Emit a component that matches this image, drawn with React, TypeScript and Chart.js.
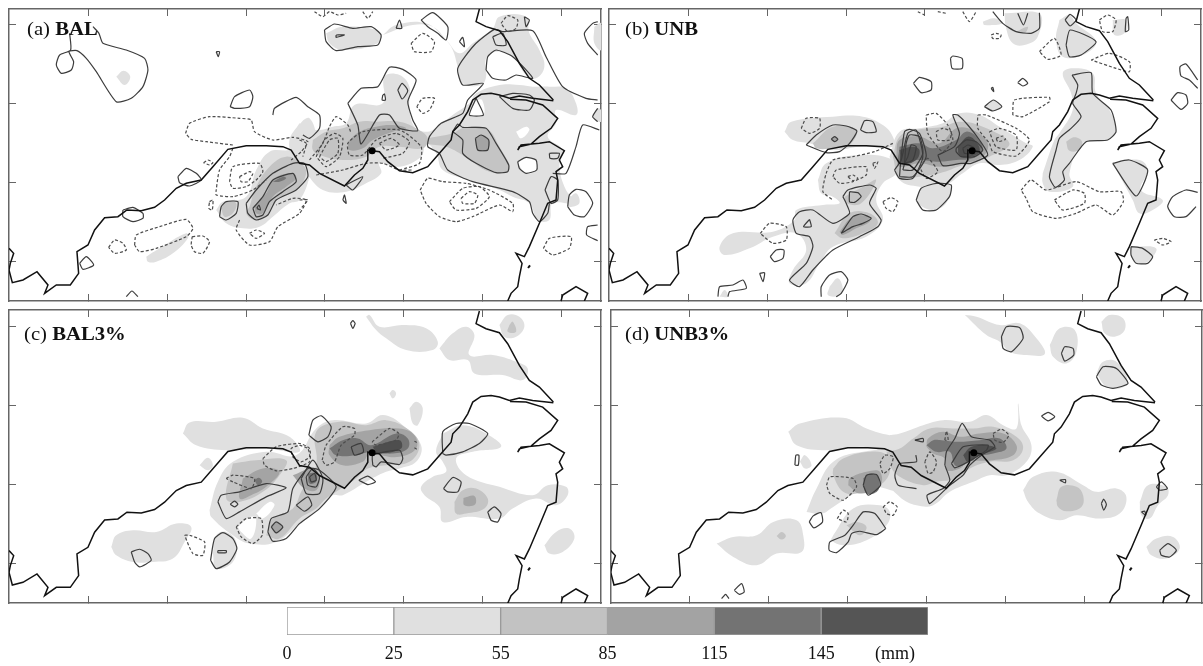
import React, { useEffect, useRef } from "react";
import { Chart, registerables } from "chart.js";

Chart.register(...registerables);

// Map units: left half of each panel uses u, right half uses u + 900.
const S = 0, D = 1, SO = 2, DO = 3;
const SHIFT = 900;

const coastWestLeft = [28,745,42,760,32,790,28,810,38,848,70,840,112,815,145,855,135,880,170,855,212,855,237,820,232,755,265,735,285,690,315,653,355,650,382,630,425,632,465,622,495,600,530,565,560,550,605,540,640,500,685,448,740,437,800,437,850,440,875,450,895,482];
const coastWestRight = [0,490,30,495,60,520,135,558,165,525,190,505,205,480,205,450,218,452,240,455,265,485,300,512,340,518,385,500,420,460,455,420,460,395,480,375,505,335,520,300,545,283,575,280,600,285,630,295,660,288,700,295,762,302];
const coastNorth = [540,27,530,65,560,80,600,92,625,125,660,190,690,235,720,255,762,300];
const coastSouth = [632,298,680,300,730,315,775,355,755,385,720,410,695,432,660,440,655,450,665,435,720,430,750,425,795,452,780,480,790,500,770,515,775,540,770,600,745,610,720,670,690,740,675,770,650,760,668,790,660,830,655,860,635,880,625,903];
const coastCorner = [785,903,790,885,830,860,865,880,855,903];
const coastIsle = [686,804,692,796];
const stationDot = [218, 452];

const aShadeLeft = [
  [1,[350,230,372,212,392,230,375,255]],
  [1,[440,770,480,745,560,700,565,715,520,760,470,785,445,785]],
  [1,[650,630,670,605,740,590,770,510,810,455,880,445,900,375,930,355,950,420,930,530,900,600,870,610,820,650,780,680,730,685,680,670]],
  [2,[750,620,770,560,810,500,860,470,905,490,920,520,890,570,825,605,800,650,765,660,740,640]],
  [2,[665,625,680,605,710,610,700,640,675,650]],
  [3,[765,620,800,580,825,535,880,520,890,535,860,560,820,590,790,640,770,640]],
  [4,[820,545,850,530,860,535,840,545]],
];
const aShadeRight = [
  [1,[0,370,50,390,100,380,140,370,165,315,250,310,255,230,300,225,330,260,330,320,345,380,385,395,420,375,460,345,510,310,530,280,600,255,660,255,700,260,750,260,800,265,830,310,830,345,770,330,770,370,745,410,790,450,780,500,800,570,830,610,760,610,750,660,715,660,690,610,640,590,600,570,510,540,430,510,410,460,380,430,365,470,300,500,240,490,245,520,200,550,140,575,70,570,20,520,-20,470,-30,420]],
  [1,[250,105,340,75,400,80,440,120,460,150,475,200,490,250,545,255,560,230,560,175,590,155,640,170,680,225,710,235,735,200,720,150,690,100,680,50,600,50,580,85,520,130,480,160,440,120,380,70,290,75]],
  [1,[80,100,130,80,240,95,235,130,130,150,90,130]],
  [1,[805,600,830,580,840,610,810,620]],
  [1,[885,80,905,70,905,150,885,130]],
  [1,[880,345,895,325,905,330,905,365,890,360]],
  [1.5,[655,490,680,472,710,480,710,510,680,520]],
  [1.5,[650,395,680,380,690,390,665,415]],
  [1.5,[530,300,548,300,552,345,510,345]],
  [2,[40,420,80,395,130,385,180,365,230,365,300,365,350,385,385,415,370,445,300,440,240,440,200,470,130,480,60,465,40,450]],
  [2,[385,415,460,400,490,385,560,385,600,440,630,510,570,515,490,465,440,440,380,430]],
  [3,[145,425,180,395,230,380,280,375,320,385,280,395,220,420,190,445,150,450]],
  [3,[530,415,550,405,568,420,565,450,535,450]],
];
const aLinesLeft = [
  [SO,[210,100,213,150,180,165,170,195,185,220,215,210,222,185,208,155,232,152,260,175,290,215,350,305,395,295,430,260,445,210,435,175,380,150,310,130,298,100,280,80]],
  [S,[692,320,705,290,750,270,760,290,750,320,705,325]],
  [S,[535,530,560,505,590,520,605,540,570,558,540,548]],
  [S,[370,630,400,622,430,640,430,655,400,665,370,650]],
  [S,[240,790,260,770,282,795,250,808]],
  [SO,[380,890,397,873,415,890]],
  [S,[660,650,665,620,680,605,715,605,710,640,680,660]],
  [S,[740,610,770,570,820,520,880,490,915,490,925,530,890,570,830,600,805,645,770,660,745,640]],
  [S,[760,625,790,590,820,540,880,520,890,545,850,575,810,605,790,645,770,650]],
  [S,[772,625,778,615,783,630]],
  [S,[650,155,660,155,656,170]],
  [SO,[820,345,825,325,890,292,925,320,960,345,960,385,930,415,910,405]],
  [DO,[558,400,570,370,630,350,720,355,755,360,765,395,820,420,880,412,925,425,905,455,875,480]],
  [DO,[700,435,620,425,575,418,558,400]],
  [DO,[700,445,690,470,660,510,650,570,650,585,700,590,760,570,800,540]],
  [D,[690,545,700,500,780,490,790,515,770,540,740,560,700,565]],
  [D,[720,530,750,515,760,520,745,545,725,545]],
  [D,[612,488,625,480,640,488,630,495]],
  [D,[630,605,640,600,638,630,628,625]],
  [DO,[720,660,710,690,750,735,810,725,835,680,900,640,920,600,880,595,830,615]],
  [D,[750,700,770,690,795,700,770,715]],
  [D,[405,735,410,705,480,680,560,658,580,685,560,710,470,745,420,755]],
  [D,[578,710,610,708,630,725,610,760,585,755,575,735]],
  [D,[327,742,345,720,370,730,380,750,345,760]],
];
const aLinesRight = [
  [S,[145,310,185,265,235,260,270,202,310,208,350,240,325,305,340,360,355,392,300,385,270,345,240,345,185,432,175,375]],
  [S,[75,90,105,72,160,85,215,80,245,105,235,135,175,140,110,152,80,125]],
  [S,[110,105,135,105,110,112]],
  [S,[290,85,300,60,307,85]],
  [SO,[365,60,400,38,445,80,440,120,415,100,385,80,365,60]],
  [S,[295,270,308,250,325,272,308,297]],
  [S,[250,285,255,282,258,300,248,300]],
  [SO,[895,300,860,295,790,260,740,170,700,92,610,95,585,88,525,135,475,205,490,255,552,250,505,300,490,340,425,370,390,410,385,440,420,460,445,510,520,545,640,575,690,605,700,640,720,665,745,640,750,610]],
  [S,[560,210,565,170,590,150,640,170,700,235,650,225,620,240,580,235]],
  [S,[530,295,552,345,510,345]],
  [SO,[760,520,800,520,830,440,850,375,900,390]],
  [S,[460,395,475,372,490,382,560,385,590,430,628,495,625,515,590,518,530,490,490,460,490,420]],
  [S,[528,415,545,405,568,420,565,450,535,450]],
  [S,[480,125,490,112,495,140]],
  [S,[580,110,610,100,620,135,590,135]],
  [S,[675,50,690,60,680,80]],
  [SO,[895,65,880,70,855,100,865,130,895,165]],
  [S,[805,620,810,585,830,568,860,575,880,610,855,650,825,645]],
  [SO,[895,675,865,680,862,705,895,722]],
  [SO,[895,325,880,350,895,365]],
  [S,[140,555,190,530,160,570]],
  [S,[130,600,135,585,140,610]],
  [S,[655,485,680,472,710,480,712,510,680,520,660,505]],
  [S,[737,570,755,530,775,540,775,600,755,610]],
  [S,[600,290,640,280,690,285,705,300,690,330,640,325]],
  [S,[750,460,780,460,775,475,752,475]],
  [DO,[0,420,20,430,10,470]],
  [DO,[0,600,25,600,0,630]],
  [DO,[30,480,70,430,90,380,110,350,145,375,155,400]],
  [D,[50,470,75,420,105,400,130,415,120,470,80,500]],
  [D,[60,470,90,420,115,415,115,460,80,485]],
  [DO,[300,510,360,490,365,440,300,390,190,395,145,430,150,465,190,465,230,420,290,400,330,425,310,460,250,475]],
  [D,[240,430,275,415,300,435,260,450]],
  [DO,[50,525,130,510,200,490,250,490,300,510,340,510]],
  [D,[362,570,385,535,430,545,500,550,570,570,640,610,640,635,600,615,520,650,470,665,420,650,380,610]],
  [D,[450,605,490,565,540,560,570,590,530,625,470,630]],
  [D,[485,595,510,575,535,585,525,610,490,610]],
  [D,[335,130,370,100,405,125,395,155,345,155]],
  [D,[352,320,370,295,405,295,390,330,370,340]],
  [D,[605,70,625,47,655,60,650,85,625,95]],
  [D,[732,745,750,715,815,710,810,745,760,765]],
  [DO,[45,35,70,50,90,35,115,45,140,40]],
  [DO,[190,35,205,55,220,35]],
];

const bShadeLeft = [
  [1,[555,395,575,365,700,350,790,350,850,375,880,410,880,440,780,440,700,450,630,430,580,420]],
  [1,[655,540,680,490,780,465,880,480,890,520,850,550,830,600,850,660,800,710,700,740,660,790,620,850,570,850,580,810,620,750,590,700,520,710,450,745,375,765,360,740,400,700,520,695,585,660,590,630,670,615,720,610,700,590,665,580]],
  [1,[690,860,715,835,730,870,715,888,685,885]],
  [1,[360,890,375,870,385,890]],
  [2,[640,430,700,380,770,390,750,435,700,445,650,445]],
  [2,[735,590,790,560,830,540,785,610,740,610]],
  [2,[705,700,750,640,810,640,835,670,790,700,730,715]],
  [3,[720,695,760,650,810,650,810,665,770,685,730,705]],
  [3,[695,415,705,410,715,418,705,425]],
];
const bShadeRight = [
  [1,[-30,470,0,395,60,385,130,370,180,340,240,345,300,380,380,430,400,440,360,480,300,495,240,490,190,520,150,550,130,560,60,560,0,540]],
  [1,[50,600,70,560,150,555,140,610,100,630,60,615]],
  [1,[430,520,465,420,480,400,520,330,515,280,490,220,520,205,580,220,590,280,630,330,650,390,625,420,550,430,510,520,520,560,450,575,430,550]],
  [1,[640,490,720,480,745,510,725,570,790,600,760,630,720,640,700,600]],
  [1,[480,60,510,45,530,70,590,125,550,165,490,170,470,120]],
  [1,[315,40,420,40,415,110,375,135,340,130,320,85]],
  [1,[250,65,285,55,310,70,255,75]],
  [1,[640,60,680,60,680,95,645,105]],
  [1,[695,740,770,745,745,785,710,790,695,765]],
  [1,[255,320,280,300,305,320,280,333]],
  [2,[-20,470,0,410,50,390,130,380,180,365,250,380,330,430,270,470,190,495,120,520,60,530,0,530]],
  [2,[350,95,385,80,375,100]],
  [2,[500,425,525,412,548,425,540,450,510,452]],
  [3,[-10,470,0,420,60,410,120,430,170,385,220,390,265,430,250,470,190,490,120,500,60,490,0,500]],
  [4,[0,440,60,430,100,445,170,420,200,395,230,410,250,450,220,475,170,480,120,485,50,480,0,490]],
  [5,[0,450,40,440,60,450,50,480,10,490]],
  [5,[175,440,205,410,230,425,240,455,210,470,180,465]],
];
const bLinesLeft = [
  [S,[620,435,650,405,700,375,740,378,772,393,750,430,720,455,680,458]],
  [S,[695,417,705,410,715,418,705,425]],
  [S,[783,390,795,362,820,365,830,395,800,398]],
  [S,[885,510,905,480,925,400,950,390,970,470,940,535,900,535]],
  [S,[730,590,745,570,810,555,830,565,810,610,845,660,835,680,780,710,700,750,640,810,600,860,570,840,620,790,640,740,630,710,590,700,580,660,600,635,640,630,700,670,750,640,740,610]],
  [S,[750,575,775,578,785,590,765,607,750,605]],
  [S,[630,658,612,680,635,680]],
  [S,[725,700,760,650,785,642,815,655,790,670,760,680]],
  [S,[512,770,530,750,553,750,550,775,525,785]],
  [S,[480,820,495,818,490,845]],
  [SO,[355,890,360,860,400,855,430,840,440,865,390,875,385,890]],
  [SO,[665,890,665,860,690,825,725,815,745,840,725,880,710,890]],
  [D,[605,385,620,355,660,355,660,385,630,400]],
  [DO,[880,430,825,455,760,470,700,480,680,520,670,575,700,600]],
  [D,[700,530,710,510,800,500,800,525,760,545,720,550]],
  [D,[745,530,760,525,775,535,760,542]],
  [D,[482,700,510,670,560,680,560,720,520,730]],
  [D,[850,605,875,593,895,605,880,635,860,625]],
  [D,[820,490,835,485,825,505]],
];
const bLinesRight = [
  [S,[0,530,40,530,80,470,60,400,30,388,15,395,5,470]],
  [S,[10,510,40,510,70,460,60,410,30,405,20,430,15,490]],
  [S,[15,490,40,480,50,440,35,435,25,470]],
  [S,[115,465,165,440,180,400,160,345,175,345,205,375,240,420,265,465,215,490,185,490,130,497]],
  [S,[170,445,200,420,230,425,250,450,225,470,185,470,170,455]],
  [S,[190,445,205,435,225,445,215,460,195,460]],
  [S,[42,250,60,232,95,245,95,270,65,278]],
  [S,[153,175,160,168,188,175,188,205,158,205]],
  [S,[355,248,370,235,385,250,370,258]],
  [S,[255,320,282,300,307,320,280,333]],
  [SO,[280,35,310,70,350,95,395,100,420,85,420,38]],
  [SO,[355,40,372,75,385,40]],
  [S,[497,60,512,43,530,60,512,78]],
  [S,[500,135,512,90,590,125,545,165,510,170]],
  [S,[680,55,685,50,688,90,678,95]],
  [S,[518,225,575,218,580,280,635,330,650,395,625,420,560,425,510,490,490,515,495,540,468,562,450,530,470,450,480,415,515,385,545,350,520,310,530,280,535,255]],
  [S,[640,490,690,480,745,510,710,588]],
  [SO,[895,577,860,570,820,590,805,620,825,650,860,650,890,620]],
  [S,[815,300,835,278,860,285,865,310,845,328]],
  [SO,[895,265,870,240,845,228,842,200,860,192,895,240]],
  [S,[695,740,730,745,760,770,745,790,710,790,695,765]],
  [S,[50,600,65,565,110,550,155,555,150,590,110,630,70,630]],
  [S,[275,265,280,262,283,275]],
  [D,[80,345,110,340,145,375,160,420,130,455,85,400]],
  [D,[110,395,130,385,155,395,150,420,115,420]],
  [D,[60,500,85,475,115,515,80,535]],
  [D,[235,345,260,345,350,385,390,420,350,468,280,455,270,430,235,385]],
  [D,[270,395,300,385,350,405,350,450,290,440]],
  [D,[290,415,310,408,318,418,295,425]],
  [D,[340,345,345,300,450,292,450,305,370,350]],
  [D,[275,105,290,100,305,105,300,115,280,115]],
  [D,[365,570,395,540,440,570,530,545,600,575,665,575,672,605,640,645,590,615,530,640,470,655,400,635,380,595]],
  [D,[465,600,520,570,555,580,555,610,490,630]],
  [D,[420,155,465,115,485,165,445,178]],
  [D,[575,180,630,160,690,185,690,215,650,205]],
  [D,[600,60,625,45,650,60,640,95,610,95]],
  [D,[765,720,790,715,815,725,790,735]],
  [DO,[190,35,210,65,230,35]],
  [DO,[55,35,75,45]],
  [DO,[115,35,140,40]],
];

const cShadeLeft = [
  [1,[550,385,570,352,650,350,730,338,790,370,870,395,900,440,800,430,680,435,590,420]],
  [1,[630,615,655,530,700,470,800,440,890,450,950,370,1000,345,1100,355,1150,330,1210,360,1265,420,1250,470,1200,490,1160,500,1100,530,1030,570,1000,570,960,610,900,655,830,710,750,715,700,690,635,635]],
  [1,[600,480,625,458,640,480,625,495]],
  [1,[335,725,350,690,400,675,470,680,530,655,575,665,555,710,520,760,460,770,400,770,350,750]],
  [1,[640,745,650,690,680,680,710,710,700,770,650,790]],
  [1.5,[770,625,810,590,825,600,790,640]],
  [1.5,[715,665,750,635,770,640,755,700,725,680]],
  [2,[700,475,770,465,860,465,840,510,790,560,720,590,680,580]],
  [2,[800,690,820,640,880,610,905,560,950,480,950,380,1020,350,1100,360,1160,345,1230,375,1260,420,1230,470,1160,480,1105,490,1070,520,1010,560,980,580,950,610,900,640,840,700]],
  [3,[730,520,790,490,840,500,800,545,755,570,720,580]],
  [3,[815,660,830,650,850,665,830,685]],
  [3,[880,510,940,490,960,520,950,555,915,550]],
  [4,[765,525,778,518,788,530,775,540]],
  [4,[925,505,950,505,950,530,930,535]],
];
const cShadeRight = [
  [1,[430,385,490,360,560,385,605,425,520,440,470,460,500,510,600,545,700,570,745,540,800,545,805,570,770,600,710,580,640,610,600,640,500,635,430,650,420,605,375,570,365,545,400,515,440,500,430,470,410,440]],
  [1,[735,720,770,680,810,670,825,700,790,740,750,745]],
  [1,[420,130,460,85,500,65,525,90,510,150,580,150,650,170,685,190,670,225,610,210,525,205,505,165,450,165]],
  [1,[600,60,625,30,660,35,675,65,650,95,615,95]],
  [1,[200,35,210,30,240,65,310,60,380,70,415,110,400,135,320,135,260,100,230,75]],
  [1,[270,265,280,255,290,265,280,280]],
  [1,[330,310,350,290,370,310,355,360,340,355]],
  [2,[465,590,490,555,530,550,565,580,555,610,500,625,470,625]],
  [2,[630,60,640,50,650,80,625,80]],
  [3,[90,420,120,395,210,375,300,370,345,390,350,430,300,455,240,450,210,445,190,470,130,480,90,450]],
  [3,[492,578,525,572,527,598,495,600]],
  [4,[90,430,130,405,175,400,215,420,290,385,325,400,325,430,280,445,215,440,170,450,110,450]],
  [5,[220,425,300,405,305,430,235,445]],
];
const cLinesLeft = [
  [S,[655,590,665,570,720,560,800,535,860,548,800,575,720,620,680,640]],
  [S,[692,597,705,588,715,597,705,605]],
  [S,[805,680,815,640,865,620,880,550,925,490,960,495,1010,545,960,610,900,655,860,700,820,708]],
  [S,[815,665,830,650,850,665,830,683]],
  [S,[890,600,925,575,937,600,915,618]],
  [S,[905,520,940,465,970,520,960,565,920,565]],
  [S,[920,515,940,490,960,515,950,545,925,540]],
  [S,[930,515,945,505,950,525,935,530]],
  [S,[395,740,420,732,445,745,455,765,420,785,405,770]],
  [S,[633,765,645,700,670,682,700,700,712,730,690,770,650,790]],
  [S,[655,736,680,736,680,742,655,742]],
  [D,[680,520,700,510,765,520,755,550,700,530]],
  [D,[790,460,830,425,900,415,930,430,930,470,880,490,830,497,795,480]],
  [D,[710,665,740,640,785,640,788,690,760,715,725,695]],
  [D,[555,690,570,690,615,710,610,750,580,745]],
];
const cLinesRight = [
  [S,[28,390,40,345,65,332,95,365,85,395,55,410]],
  [S,[155,425,185,415,192,440,165,450]],
  [S,[178,525,205,513,228,530,205,538]],
  [S,[220,480,220,450,300,435,310,460,300,478,245,470,230,485]],
  [S,[430,445,430,380,470,355,510,355,565,385,540,415,490,440,440,450]],
  [S,[432,550,460,517,485,530,475,560,445,560]],
  [S,[565,620,585,605,605,625,595,650,575,645]],
  [S,[153,55,160,47,167,55,160,70]],
  [D,[0,420,25,430,30,455,5,470,-20,455,-25,430]],
  [D,[68,465,80,420,130,365,165,370,165,390,125,420,105,470,80,480]],
  [D,[218,410,270,370,298,385,290,405,230,420]],
  [DO,[345,408,352,412]],
  [DO,[345,428,352,432]],
];

const dShadeLeft = [
  [1,[565,380,600,355,730,338,800,370,870,390,930,390,900,445,790,425,680,435,590,420]],
  [1,[620,620,650,550,700,470,790,440,900,440,960,510,930,560,800,540,770,560,700,605,665,625]],
  [1,[700,690,760,610,840,600,870,620,860,660,800,705,730,720,695,705]],
  [1,[600,470,615,450,635,480,615,490]],
  [1,[350,715,400,695,470,690,520,650,590,645,610,690,605,740,530,745,470,780,400,755]],
  [2,[700,490,730,460,810,440,860,450,870,500,840,540,770,565,730,560,700,510]],
  [2,[740,660,770,650,800,665,780,690]],
  [2,[530,692,545,680,558,692,545,703]],
  [3,[745,540,750,520,800,500,840,500,840,545,780,565]],
  [4,[790,520,810,505,835,515,835,555,800,565]],
];
const dShadeRight = [
  [1,[-30,390,0,385,70,360,130,345,210,350,260,330,310,360,350,370,355,295,365,360,395,420,380,470,320,510,270,510,220,530,150,560,100,600,50,600,0,575,-40,520]],
  [1,[370,555,400,515,470,500,550,540,590,560,650,550,680,575,660,625,600,640,530,630,480,645,420,625,385,590]],
  [1,[720,590,745,540,800,545,805,570,775,600,750,640,725,630]],
  [1,[740,725,770,700,820,695,840,730,800,760,755,750]],
  [1,[450,120,480,70,525,75,530,140,500,175,460,155]],
  [1,[590,205,610,170,650,170,685,230,660,250,620,245]],
  [1,[605,50,630,30,670,40,675,75,645,95,615,85]],
  [1,[195,30,230,35,300,60,360,55,410,100,435,147,380,150,330,140,300,110,260,90]],
  [2,[-40,440,0,430,40,400,90,370,160,370,220,370,280,365,350,395,370,430,340,465,270,470,210,490,170,520,110,530,70,540,0,515,-30,480]],
  [2,[470,585,485,545,530,545,550,570,545,605,500,618,475,605]],
  [3,[80,425,85,400,130,380,180,395,240,385,310,385,350,420,340,450,280,465,205,470,180,490,140,495,135,460,100,445]],
  [4,[80,420,100,405,125,405,175,410,240,405,300,400,320,430,280,445,230,455,190,480,165,480,150,440,110,440]],
  [5,[190,450,215,425,260,420,290,430,240,450,205,470]],
];
const dLinesLeft = [
  [S,[585,480,588,450,597,450,595,480]],
  [S,[628,650,640,632,663,622,668,650,642,668]],
  [S,[790,540,800,510,830,508,842,540,805,570]],
  [SO,[950,550,895,540,885,510,900,475,950,470,948,450]],
  [S,[858,670,825,625,790,620,760,660,735,690,690,710,688,735,710,742,745,710,755,685,780,678,830,688]],
  [S,[403,855,425,835,433,860,418,867]],
  [SO,[365,880,377,867,387,880]],
  [D,[680,540,690,515,760,520,770,545,730,585,690,565]],
  [D,[840,475,855,450,880,455,870,490,850,505]],
  [D,[712,640,730,615,745,625,740,650]],
  [D,[850,605,870,590,892,605,880,630,860,625]],
];
const dLinesRight = [
  [S,[155,475,190,425,265,420,260,435,205,470,165,488]],
  [S,[135,480,140,440,165,400,187,355,215,395,270,405,285,425,245,450,210,480,190,510,150,540,90,595,82,570,130,550,150,525]],
  [S,[305,95,320,65,360,68,370,100,335,140,310,130]],
  [S,[485,145,495,125,520,130,522,150,495,168]],
  [S,[590,215,610,185,650,190,685,235,640,250,605,240]],
  [S,[425,333,445,322,465,335,445,347]],
  [S,[605,595,612,582,620,598,612,615]],
  [S,[45,405,70,400,70,410]],
  [S,[480,525,497,523,497,533]],
  [S,[725,620,735,618,738,630]],
  [S,[770,545,785,530,803,550,780,555]],
  [S,[780,735,805,715,830,735,810,755,785,750]],
  [D,[75,470,90,440,110,470,100,500,85,505]],
  [D,[135,405,140,378,145,405]],
  [D,[280,385,305,372,327,390,310,412,285,405]],
];

const xTicksABC = [266, 503, 740, 976, 1213, 1450, 1686];
const xTicksD = [270, 507, 744, 981, 1218, 1455, 1691];
const yTicksAB = [72, 310, 548, 785];
const yTicksCD = [63, 300, 537, 775];

const levelColors: Record<string, string> = { 1: "#e0e0e0", 1.5: "#ffffff", 2: "#c4c4c4", 3: "#a4a4a4", 4: "#747474", 5: "#4e4e4e" };

const classWidths = [1, 1, 1, 1, 1, 1];
const classColors = ["#ffffff", "#e0e0e0", "#c2c2c2", "#a3a3a3", "#737373", "#555555"];
const colorTickValues = [0, 1, 2, 3, 4, 5, 5.69];
const colorTickLabels = ["0", "25", "55", "85", "115", "145", "(mm)"];

const panels = [
  { prefix: "(a) ", name: "BAL", lx: 27, ly: 18, shadeL: aShadeLeft, shadeR: aShadeRight, lineL: aLinesLeft, lineR: aLinesRight, xr: [28, 1805], yr: [27, 903], px: [0, 0], xt: xTicksABC, yt: yTicksAB, off: [0, 0] },
  { prefix: "(b) ", name: "UNB", lx: 625, ly: 18, shadeL: bShadeLeft, shadeR: bShadeRight, lineL: bLinesLeft, lineR: bLinesRight, xr: [28, 1805], yr: [27, 903], px: [600, 0], xt: xTicksABC, yt: yTicksAB, off: [0, 0] },
  { prefix: "(c) ", name: "BAL3%", lx: 24, ly: 323, shadeL: cShadeLeft, shadeR: cShadeRight, lineL: cLinesLeft, lineR: cLinesRight, xr: [28, 1805], yr: [15, 893], px: [0, 305], xt: xTicksABC, yt: yTicksCD, off: [0, -9] },
  { prefix: "(d) ", name: "UNB3%", lx: 625, ly: 323, shadeL: dShadeLeft, shadeR: dShadeRight, lineL: dLinesLeft, lineR: dLinesRight, xr: [33, 1807], yr: [15, 893], px: [600, 305], xt: xTicksD, yt: yTicksCD, off: [4, -9] },
];

const pts = (flat: number[], dx = 0, dy = 0, close = false) => {
  const out: { x: number; y: number }[] = [];
  for (let i = 0; i + 1 < flat.length; i += 2) out.push({ x: flat[i] + dx, y: flat[i + 1] + dy });
  if (close) out.push({ ...out[0] });
  return out;
};

const BORDER = "#666666";
const PAD = 3;
const INSET = 1;

function axis(position: string, min: number, max: number, values: number[], reverse: boolean, horizontal: boolean) {
  return {
    type: "linear",
    position,
    min,
    max,
    reverse,
    ticks: { display: false },
    grid: { display: true, drawOnChartArea: false, drawTicks: true, tickLength: -7, tickColor: BORDER, tickWidth: 1 },
    border: { display: true, color: BORDER, width: 1.5 },
    afterBuildTicks: (s: any) => { s.ticks = values.map((value) => ({ value })); },
    afterFit: (s: any) => { if (horizontal) s.height = 0; else s.width = 0; },
  };
}

function buildDatasets(p: any) {
  const shades = [
    ...p.shadeL.map(([lv, f]: any) => ({ lv, data: pts(f, 0, 0, true) })),
    ...p.shadeR.map(([lv, f]: any) => ({ lv, data: pts(f, SHIFT, 0, true) })),
  ].sort((a, b) => a.lv - b.lv);
  const list: any[] = shades.map((s) => ({
    data: s.data, fill: "shape", backgroundColor: levelColors[s.lv], borderWidth: 0, borderColor: "transparent", pointRadius: 0, tension: 0.4,
  }));
  const lineSet = (kind: number, f: number[], shift: number) => {
    const dashed = kind === D || kind === DO;
    const closed = kind === S || kind === D;
    list.push({
      data: pts(f, shift, 0, closed), fill: false, borderColor: dashed ? "#4c4c4c" : "#3c3c3c", borderWidth: 1.2,
      borderDash: dashed ? [3, 2] : [], pointRadius: 0, tension: 0.2,
    });
  };
  p.lineL.forEach(([k, f]: any) => lineSet(k, f, 0));
  p.lineR.forEach(([k, f]: any) => lineSet(k, f, SHIFT));
  const [ox, oy] = p.off;
  const coast = (data: any[]) => list.push({ data, fill: false, borderColor: "#111111", borderWidth: 1.5, pointRadius: 0, tension: 0 });
  coast([...pts(coastWestLeft, ox, oy), ...pts(coastWestRight, SHIFT + ox, oy)]);
  coast(pts(coastNorth, SHIFT + ox, oy));
  coast(pts(coastSouth, SHIFT + ox, oy));
  coast(pts(coastCorner, SHIFT + ox, oy));
  list.push({ data: pts(coastIsle, SHIFT + ox, oy), fill: false, borderColor: "#111111", borderWidth: 2, pointRadius: 0 });
  list.push({ data: pts(stationDot, SHIFT + ox, oy), showLine: false, pointRadius: 3.5, pointBackgroundColor: "#000000", pointBorderWidth: 0 });
  return list.map((d, i) => ({ ...d, order: list.length - i }));
}

function Panel({ p }: { p: any }) {
  const ref = useRef<HTMLCanvasElement>(null);
  const left = p.px[0] + p.xr[0] / 3;
  const top = p.px[1] + p.yr[0] / 3;
  const w = (p.xr[1] - p.xr[0]) / 3;
  const h = (p.yr[1] - p.yr[0]) / 3;
  useEffect(() => {
    const chart = new Chart(ref.current!, {
      type: "line",
      data: { datasets: buildDatasets(p) },
      options: {
        animation: false,
        responsive: false,
        events: [],
        layout: { padding: PAD },
        plugins: { legend: { display: false }, title: { display: false }, tooltip: { enabled: false } },
        scales: {
          x: axis("bottom", p.xr[0], p.xr[1], p.xt, false, true),
          xTop: axis("top", p.xr[0], p.xr[1], p.xt, false, true),
          y: axis("left", p.yr[0], p.yr[1], p.yt, true, false),
          yRight: axis("right", p.yr[0], p.yr[1], p.yt, true, false),
        },
      },
    } as any);
    return () => chart.destroy();
  }, [p]);
  return (
    <canvas
      ref={ref}
      width={Math.round(w + 2 * PAD + 2 * INSET)}
      height={Math.round(h + 2 * PAD + 2 * INSET)}
      style={{ position: "absolute", left: left - PAD - INSET, top: top - PAD - INSET, filter: "blur(0.4px)" }}
    />
  );
}

function ColorBar() {
  const ref = useRef<HTMLCanvasElement>(null);
  useEffect(() => {
    const chart = new Chart(ref.current!, {
      type: "bar",
      data: {
        labels: ["mm"],
        datasets: classWidths.map((v, i) => ({
          data: [v], backgroundColor: classColors[i], borderColor: "#9a9a9a", borderWidth: 1, borderSkipped: false, barPercentage: 1, categoryPercentage: 1,
        })),
      },
      options: {
        animation: false,
        responsive: false,
        indexAxis: "y",
        events: [],
        layout: { padding: { left: 17, right: 22, top: 7, bottom: 0 } },
        plugins: { legend: { display: false }, title: { display: false }, tooltip: { enabled: false } },
        scales: {
          y: { stacked: true, display: false },
          x: {
            type: "linear",
            stacked: true,
            min: 0,
            max: 6,
            grid: { display: false },
            border: { display: false },
            afterBuildTicks: (s: any) => { s.ticks = colorTickValues.map((value) => ({ value })); },
            afterFit: (s: any) => { s.height = 31; },
            ticks: {
              autoSkip: false,
              maxRotation: 0,
              padding: 0,
              color: "#111111",
              font: { family: "'Liberation Serif', serif", size: 18 },
              callback: (_: any, i: number) => colorTickLabels[i],
            },
          },
        },
      },
    } as any);
    return () => chart.destroy();
  }, []);
  return <canvas ref={ref} width={680} height={66} style={{ position: "absolute", left: 270, top: 600 }} />;
}

export default function App() {
  return (
    <div style={{ position: "absolute", left: 0, top: 0, width: 1203, height: 666, overflow: "hidden", background: "#fff" }}>
      {panels.map((p) => <Panel key={p.name} p={p} />)}
      {panels.map((p) => (
        <div
          key={p.name + "-label"}
          style={{
            position: "absolute", left: p.lx, top: p.ly, whiteSpace: "nowrap", color: "#111",
            fontFamily: "'Liberation Serif', serif", fontSize: 18, lineHeight: "22px",
            transform: "scaleX(1.15)", transformOrigin: "left top",
          }}
        >
          {p.prefix}<b>{p.name}</b>
        </div>
      ))}
      <ColorBar />
    </div>
  );
}
